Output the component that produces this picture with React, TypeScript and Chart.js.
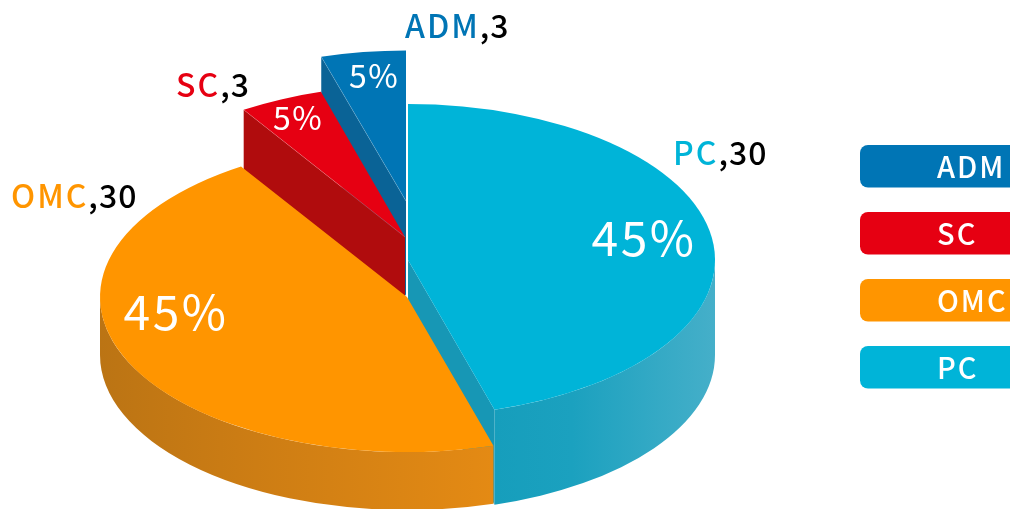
import React, { useEffect, useRef } from "react";
import { Chart, registerables } from "chart.js";

Chart.register(...registerables);

const categories = ["PC", "OMC", "SC", "ADM"];
const values = [30, 30, 3, 3];
const colors = ["#00B4D8", "#FF9500", "#E60012", "#0075B5"];
const faceColors = ["#1797B5", "#E08713", "#B00C0D", "#0A6396"];
const wallLeft = ["#169EBC", "#BB7414", "#B00C0D", "#0A6396"];
const wallMid = ["#1BA1BF", "#CB7C14", "#B00C0D", "#0A6396"];
const wallRight = ["#45AFC9", "#E48A14", "#B00C0D", "#0A6396"];

const FONT = '"Noto Sans CJK SC", "Noto Sans", sans-serif';
const BASE_RADIUS = 307;
// how each slice is lifted and squashed in the fake 3D view
const shiftX = [1, 0, -2, -1];
const shiftY = [5.5, 42.5, -17.5, -53.5];
const radiusScale = [1, 1, 0.972, 0.98];
const squash = [0.508, 0.505, 0.507, 0.5];
const thickness = [95, 58, 60, 95];
const paintOrder = [3, 2, 0, 1];
// text placement
const pctX = [644, 176, 298, 374];
const pctY = [238, 312, 118, 76];
const pctSize = [48, 48, 32, 32];
const calloutX = [673, 11, 176, 405];
const calloutY = [165, 208, 97, 38];
const legendOrder = [3, 2, 1, 0];
const legendTop = [145, 212, 279, 346];

function text(ctx: any, s: string, x: number, y: number, font: string, color: string, spacing: number, baseline = "alphabetic", align = "left") {
  ctx.font = font;
  ctx.fillStyle = color;
  ctx.letterSpacing = spacing + "px";
  ctx.textBaseline = baseline;
  ctx.textAlign = align;
  ctx.fillText(s, x, y);
  return ctx.measureText(s).width;
}

const pie3d = {
  id: "pie3d",
  beforeDatasetsDraw(chart: any) {
    const ctx = chart.ctx;
    const arcs = chart.getDatasetMeta(0).data;
    for (const i of paintOrder) {
      const arc = arcs[i];
      const { x, y, startAngle, endAngle, outerRadius } = arc.getProps(["x", "y", "startAngle", "endAngle", "outerRadius"], true);
      const cx = x + shiftX[i];
      const cy = y + shiftY[i];
      const rx = outerRadius * radiusScale[i];
      const ry = rx * squash[i];
      const t = thickness[i];
      const pt = (a: number) => [cx + rx * Math.cos(a), cy + ry * Math.sin(a)];

      // outer wall: only the lower half of the rim faces the viewer
      const a0 = Math.max(startAngle, 0);
      const a1 = Math.min(endAngle, Math.PI);
      if (a1 > a0) {
        const [xa] = pt(a0);
        const [xb] = pt(a1);
        const g = ctx.createLinearGradient(Math.min(xa, xb), 0, Math.max(xa, xb), 0);
        g.addColorStop(0, wallLeft[i]);
        g.addColorStop(0.35, wallMid[i]);
        g.addColorStop(1, wallRight[i]);
        ctx.beginPath();
        ctx.ellipse(cx, cy, rx, ry, 0, a0, a1);
        ctx.ellipse(cx, cy + t, rx, ry, 0, a1, a0, true);
        ctx.closePath();
        ctx.fillStyle = g;
        ctx.fill();
      }

      // cut face: right-hand slices show their end edge, left-hand ones their start edge
      const edge = i === 0 ? endAngle : startAngle;
      if (i !== 1) {
        const [ex, ey] = pt(edge);
        ctx.beginPath();
        ctx.moveTo(ex, ey);
        ctx.lineTo(cx, cy);
        ctx.lineTo(cx, cy + t);
        ctx.lineTo(ex, ey + t);
        ctx.closePath();
        ctx.fillStyle = faceColors[i];
        ctx.fill();
      }

      // top surface, drawn by the library's own arc element
      ctx.save();
      ctx.translate(cx, cy);
      ctx.scale(radiusScale[i], radiusScale[i] * squash[i]);
      ctx.translate(-x, -y);
      arc.draw(ctx);
      ctx.restore();

      if (i >= 2) {
        const [ex, ey] = pt(edge);
        ctx.beginPath();
        ctx.moveTo(ex, ey);
        ctx.lineTo(cx, cy);
        ctx.strokeStyle = "rgba(255,255,255,0.22)";
        ctx.lineWidth = 0.8;
        ctx.stroke();
      }
    }
    return false;
  },
  afterDraw(chart: any) {
    const ctx = chart.ctx;
    const total = values.reduce((a, b) => a + b, 0);
    ctx.save();
    categories.forEach((name, i) => {
      const pct = Math.round((values[i] / total) * 100) + "%";
      text(ctx, pct, pctX[i], pctY[i], `${pctSize[i]}px ${FONT}`, "#FFFFFF", pctSize[i] > 40 ? 2.5 : 1.5, "middle", "center");
      const font = `500 32px ${FONT}`;
      const w = text(ctx, name, calloutX[i], calloutY[i], font, colors[i], 2);
      text(ctx, "," + values[i], calloutX[i] + w, calloutY[i], font, "#000000", 1);
    });
    legendOrder.forEach((idx, row) => {
      ctx.beginPath();
      ctx.roundRect(860, legendTop[row], 170, 42.5, 8);
      ctx.fillStyle = colors[idx];
      ctx.fill();
      text(ctx, categories[idx], 937, legendTop[row] + 22, `500 29px ${FONT}`, "#FFFFFF", 2, "middle");
    });
    ctx.restore();
  },
};

export default function App() {
  const ref = useRef<HTMLCanvasElement>(null);
  useEffect(() => {
    document.body.style.margin = "0";
    const chart = new Chart(ref.current as any, {
      type: "pie",
      data: {
        labels: categories,
        datasets: [{ data: values, backgroundColor: colors, borderWidth: 0 }],
      },
      options: {
        responsive: false,
        animation: false,
        radius: BASE_RADIUS,
        layout: { padding: { right: 196 } },
        plugins: { legend: { display: false }, tooltip: { enabled: false } },
      } as any,
      plugins: [pie3d as any],
    });
    return () => chart.destroy();
  }, []);
  return <canvas ref={ref} width={1010} height={509} style={{ display: "block" }} />;
}
